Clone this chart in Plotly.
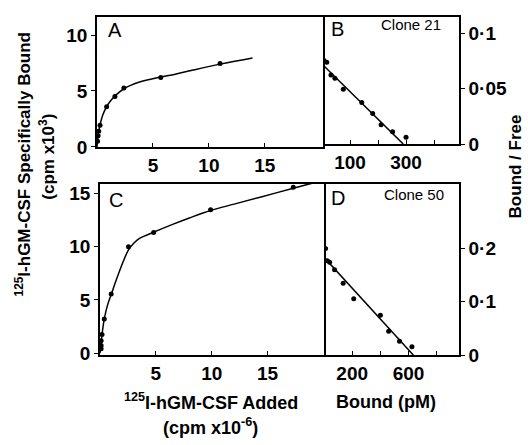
import plotly.graph_objects as go

W, H = 528, 445

# ---------- data ----------
# Panel A: saturation, clone 21
a_added = [0.05, 0.1, 0.15, 0.27, 0.86, 1.6, 2.4, 5.7, 11.0]
a_bound = [0.5, 1.0, 1.4, 1.93, 3.6, 4.5, 5.26, 6.2, 7.46]
a_curve_x = [0, 0.05, 0.12, 0.27, 0.5, 0.86, 1.2, 1.6, 2.0, 2.4, 3.0, 3.8, 4.8, 5.7, 7.0, 8.5, 11.0, 13.9]
a_curve_y = [0, 0.6, 1.2, 1.95, 2.8, 3.6, 4.1, 4.55, 4.9, 5.2, 5.5, 5.8, 6.05, 6.25, 6.5, 6.85, 7.4, 7.95]

# Panel B: Scatchard, clone 21
b_bound = [7, 17, 32, 46, 76, 142, 181, 211, 252, 300]
b_ratio = [0.0754, 0.0739, 0.0623, 0.0594, 0.0494, 0.0375, 0.0275, 0.0173, 0.0111, 0.0061]
b_line_x = [0, 290]
b_line_y = [0.0722, 0.0]

# Panel C: saturation, clone 50
c_added = [0.1, 0.1, 0.1, 0.18, 0.38, 1.0, 2.55, 4.8, 9.9, 17.3]
c_bound = [0.4, 0.7, 1.15, 1.74, 3.2, 5.55, 10.0, 11.33, 13.47, 15.58]
c_curve_x = [0, 0.1, 0.2, 0.4, 0.7, 1.0, 1.5, 2.0, 2.55, 3.0, 3.5, 4.2, 5.0, 6.5, 8.0, 9.9, 12.0, 14.5, 17.3, 19.3]
c_curve_y = [0, 1.0, 1.9, 3.3, 4.6, 5.5, 7.0, 8.4, 9.7, 10.3, 10.75, 11.1, 11.45, 12.1, 12.7, 13.4, 14.0, 14.7, 15.5, 16.05]

# Panel D: Scatchard, clone 50
d_bound = [11, 23, 40, 75, 136, 211, 400, 459, 536, 624]
d_ratio = [0.2, 0.177, 0.174, 0.160, 0.135, 0.106, 0.075, 0.045, 0.026, 0.016]
d_line_x = [0, 635]
d_line_y = [0.1835, 0.0]

# tick labels
a_yticks = [0, 5, 10]
c_yticks = [0, 5, 10, 15]
ac_xticks = [5, 10, 15]
b_xticks = [100, 300]
b_xminor = 100
d_xticks = [200, 600]
d_xminor = 200
b_yticks = [0, 0.05, 0.1]
b_ytext = ["0", "0·05", "0·1"]
d_yticks = [0, 0.1, 0.2]
d_ytext = ["0", "0·1", "0·2"]

# ---------- helpers ----------
def px(x):
    return x / W

def py(y):
    return 1 - y / H

FONT = "Liberation Sans, Arial, sans-serif"
tickfont = dict(family=FONT, size=19, color="black", weight="bold")

fig = go.Figure()

def pts(x, y, xa, ya):
    fig.add_trace(go.Scatter(x=x, y=y, mode="markers", xaxis=xa, yaxis=ya,
                             marker=dict(color="black", size=5), showlegend=False))

def line(x, y, xa, ya, spline=False):
    fig.add_trace(go.Scatter(x=x, y=y, mode="lines", xaxis=xa, yaxis=ya,
                             line=dict(color="black", width=1.5,
                                       shape="spline" if spline else "linear",
                                       smoothing=1.0),
                             showlegend=False))

line(a_curve_x, a_curve_y, "x", "y", spline=True)
pts(a_added, a_bound, "x", "y")
line(b_line_x, b_line_y, "x2", "y2")
pts(b_bound, b_ratio, "x2", "y2")
line(c_curve_x, c_curve_y, "x3", "y3", spline=True)
pts(c_added, c_bound, "x3", "y3")
line(d_line_x, d_line_y, "x4", "y4")
pts(d_bound, d_ratio, "x4", "y4")

common = dict(showline=True, linecolor="black", linewidth=1.5,
              showgrid=False, zeroline=False, ticklen=4, tickwidth=1.2,
              tickcolor="black", tickfont=tickfont)

xA = dict(domain=[px(97), px(323)], range=[0, 20.2], anchor="y", mirror=True,
          tickvals=ac_xticks, ticks="inside", **common)
yA = dict(domain=[py(150), py(16)], range=[0, 11.65], anchor="x", mirror=True,
          tickvals=a_yticks, ticks="outside", **common)
xB = dict(domain=[px(323), px(459)], range=[3.6, 489], anchor="y2", mirror=True,
          tickvals=b_xticks, ticks="inside",
          minor=dict(dtick=b_xminor, tick0=0, ticks="inside", ticklen=4,
                     tickcolor="black", tickwidth=1.2, showgrid=False), **common)
yB = dict(domain=[py(147), py(16)], range=[0, 0.115], anchor="x2", side="right",
          mirror=False, tickvals=b_yticks, ticktext=b_ytext, ticks="outside", **common)
xC = dict(domain=[px(100), px(324)], range=[0, 20.05], anchor="y3", mirror=True,
          tickvals=ac_xticks, ticks="inside", **common)
yC = dict(domain=[py(364), py(188)], range=[-0.2, 15.9], anchor="x3", mirror=True,
          tickvals=c_yticks, ticks="outside", **common)
xD = dict(domain=[px(324), px(459)], range=[0, 958], anchor="y4", mirror=True,
          tickvals=d_xticks, ticks="inside",
          minor=dict(dtick=d_xminor, tick0=0, ticks="inside", ticklen=4,
                     tickcolor="black", tickwidth=1.2, showgrid=False), **common)
yD = dict(domain=[py(364), py(188)], range=[0, 0.321], anchor="x4", side="right",
          mirror=False, tickvals=d_yticks, ticktext=d_ytext, ticks="outside", **common)

fig.update_layout(
    width=W, height=H, margin=dict(l=0, r=0, t=0, b=0),
    paper_bgcolor="white", plot_bgcolor="white",
    xaxis=xA, yaxis=yA, xaxis2=xB, yaxis2=yB,
    xaxis3=xC, yaxis3=yC, xaxis4=xD, yaxis4=yD,
)

def ann(text, x, y, size, bold=False, angle=0, xanchor="center"):
    fig.add_annotation(text=text, x=px(x), y=py(y), xref="paper", yref="paper",
                       showarrow=False, textangle=angle, xanchor=xanchor,
                       yanchor="middle",
                       font=dict(family=FONT, size=size, color="black",
                                 weight="bold" if bold else "normal"))

ann("A", 106, 30, 20, xanchor="left")
ann("B", 329, 29, 20, xanchor="left")
ann("Clone 21", 379, 24, 15, xanchor="left")
ann("C", 107, 205, 20, xanchor="left")
ann("D", 329, 202, 20, xanchor="left")
ann("Clone 50", 382, 199, 15, xanchor="left")

ann("<sup>125</sup>I-hGM-CSF Added", 211, 412, 18, bold=True)
ann("(cpm x10<sup>-6</sup>)", 210, 437, 18, bold=True)
ann("Bound (pM)", 386, 412, 18, bold=True)
ann("<sup>125</sup>I-hGM-CSF Specifically Bound", 23, 168, 17, bold=True, angle=-90)
ann("(cpm x10<sup>3</sup>)", 47, 160, 17, bold=True, angle=-90)
ann("Bound / Free", 515, 170, 17, bold=True, angle=-90)

fig.write_html("out.html")
